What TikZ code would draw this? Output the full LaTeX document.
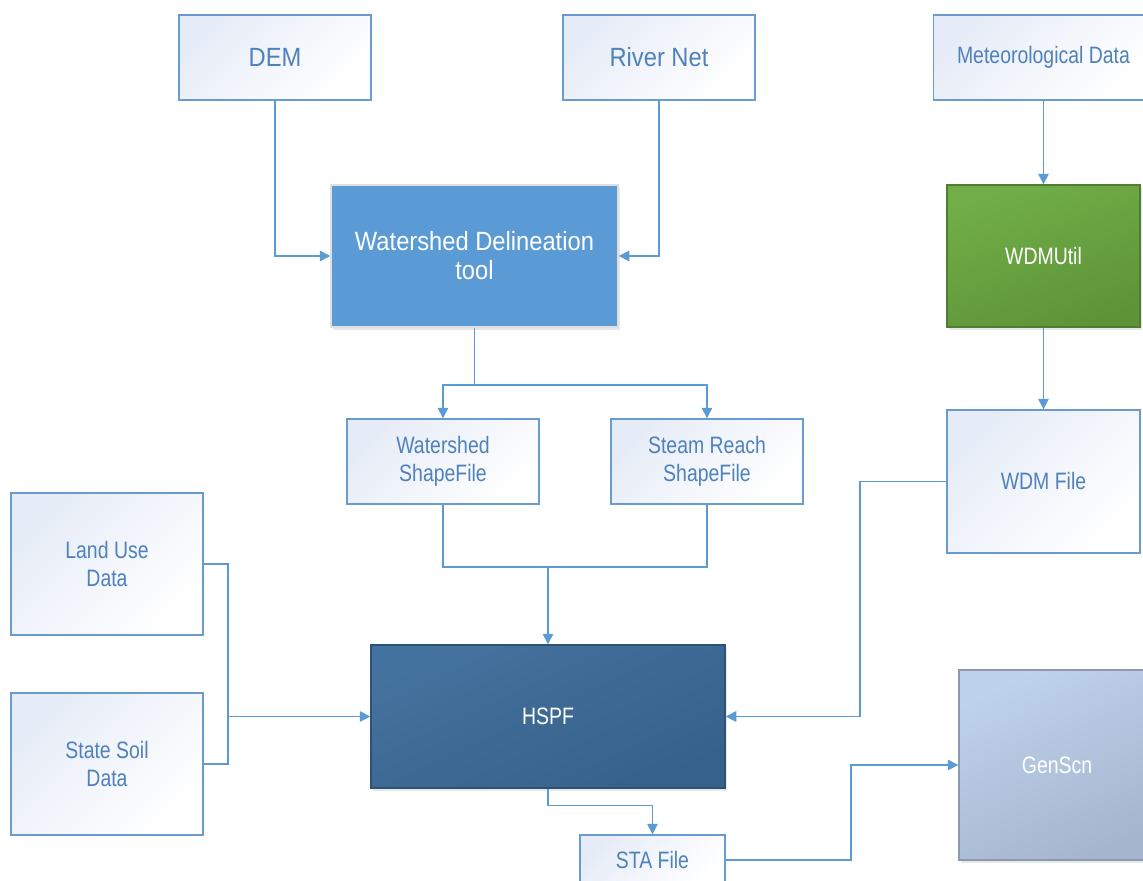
\documentclass[tikz,border=0pt]{standalone}
\usepackage{fontspec}
\setmainfont{Liberation Sans}[FakeStretch=0.9]
\newfontfamily\narrowfont{Liberation Sans}[FakeStretch=0.82]
\usetikzlibrary{arrows.meta,shadows}
\definecolor{txtblue}{HTML}{4F81BD}
\definecolor{lineblue}{HTML}{5B9BD5}
\definecolor{edgeblue}{HTML}{6A9BD0}
\definecolor{lightfill}{HTML}{E6ECF7}
\definecolor{wdblue}{HTML}{5B9BD5}
\definecolor{greenA}{HTML}{71AE48}
\definecolor{greenB}{HTML}{5E9438}
\definecolor{hspfA}{HTML}{44729E}
\definecolor{hspfB}{HTML}{36618A}
\definecolor{genA}{HTML}{BFD2EB}
\definecolor{genB}{HTML}{A5B5CE}
\tikzset{
  lbox/.style={draw=edgeblue, line width=0.8pt, top color=lightfill, bottom color=white, shading angle=45,
    text=txtblue, font=\narrowfont\fontsize{13.5}{16}\selectfont, align=center, inner sep=0pt},
  dbox/.style={line width=0.8pt, text=white, font=\narrowfont\fontsize{13.5}{16}\selectfont, align=center, inner sep=0pt,
    drop shadow={opacity=0.18, shadow xshift=1pt, shadow yshift=-1.5pt}},
  conn/.style={draw=lineblue, line width=0.9pt, -{Triangle[length=6pt,width=6pt]}},
  plain/.style={draw=lineblue, line width=0.9pt}
}
\begin{document}
\begin{tikzpicture}[x=0.02cm,y=-0.02cm]
\useasboundingbox (0,0) rectangle (1143,881);
% light input boxes
\node[lbox, minimum width=192*0.02cm, minimum height=85*0.02cm, font=\rmfamily\fontsize{15}{17}\selectfont] (dem) at (275,57.5) {DEM};
\node[lbox, minimum width=192*0.02cm, minimum height=85*0.02cm, font=\rmfamily\fontsize{15}{17}\selectfont] (river) at (659,57.5) {River Net};
\node[lbox, minimum width=220*0.02cm, minimum height=85*0.02cm] (met) at (1043.5,57.5) {Meteorological Data};
% dark boxes
\node[dbox, draw=white!75!gray, fill=wdblue, minimum width=287*0.02cm, minimum height=142*0.02cm, font=\rmfamily\fontsize{15}{16.5}\selectfont] (wd) at (474.5,256) {Watershed Delineation\\tool};
\node[dbox, draw=greenB!85!black, top color=greenA, bottom color=greenB, shading angle=20, minimum width=193*0.02cm, minimum height=142*0.02cm] (wdmu) at (1043.5,256) {WDMUtil};
\node[lbox, minimum width=192*0.02cm, minimum height=85*0.02cm] (wsf) at (443,461.5) {Watershed\\ShapeFile};
\node[lbox, minimum width=192*0.02cm, minimum height=85*0.02cm] (srs) at (707,461.5) {Steam Reach\\ShapeFile};
\node[lbox, minimum width=193*0.02cm, minimum height=143*0.02cm] (wdmf) at (1043.5,481.5) {WDM File};
\node[lbox, minimum width=192*0.02cm, minimum height=142*0.02cm] (lu) at (107,564) {Land Use\\Data};
\node[lbox, minimum width=192*0.02cm, minimum height=142*0.02cm] (ss) at (107,764) {State Soil\\Data};
\node[dbox, draw=hspfB!85!black, top color=hspfA, bottom color=hspfB, shading angle=25, minimum width=354*0.02cm, minimum height=143*0.02cm] (hspf) at (548,716.5) {HSPF};
\node[dbox, draw=genB!85!black, top color=genA, bottom color=genB, shading angle=25, minimum width=196*0.02cm, minimum height=190*0.02cm] (gen) at (1057,765) {GenScn};
\node[lbox, minimum width=145*0.02cm, minimum height=50*0.02cm] (sta) at (652.5,860) {STA File};
% junction coordinates
\coordinate (j1) at (474.5,385);
\coordinate (j2) at (548,567);
\coordinate (j3) at (228,716.5);
\coordinate (j4) at (860,716.5);
\coordinate (j6) at (851,800);
% connectors
\draw[conn] (dem.south) |- (wd.west);
\draw[conn] (river.south) |- (wd.east);
\draw[plain] (wd.south) -- (j1);
\draw[conn] (j1) -| (wsf.north);
\draw[conn] (j1) -| (srs.north);
\draw[conn] (met.south) -- (wdmu.north);
\draw[conn] (wdmu.south) -- (wdmf.north);
\draw[plain] (wsf.south) |- (j2) -| (srs.south);
\draw[conn] (j2) -- (hspf.north);
\draw[plain] (lu.east) -| (j3) |- (ss.east);
\draw[conn] (j3) -- (hspf.west);
\draw[conn] (wdmf.west) -| (j4) -- (hspf.east);
\draw[conn] (hspf.south) -- ++(0,17) -| (sta.north);
\draw[conn] (sta.east) -| (j6) |- (gen.west);
\end{tikzpicture}
\end{document}
